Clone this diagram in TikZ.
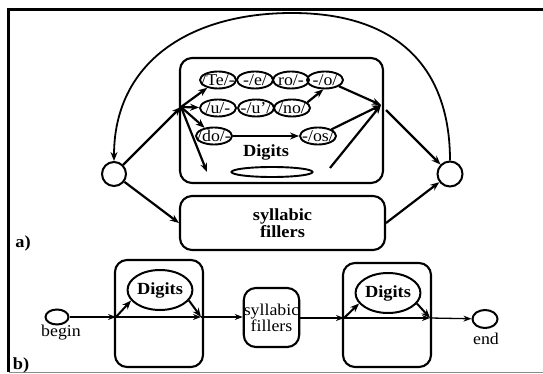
\documentclass[tikz,border=0pt]{standalone}
\usepackage{fontspec}
\setmainfont{Liberation Serif}[FakeStretch=1.08]
\usetikzlibrary{arrows.meta,shapes.geometric}

\begin{document}
\begin{tikzpicture}[x=1pt,y=-1pt,
  every node/.style={font=\fontsize{16.5}{15}\selectfont},
  arr/.style={line width=2.2pt,-{Stealth[length=9pt,width=7pt]}},
  thinarr/.style={line width=1.3pt,-{Stealth[length=8pt,width=6pt]}},
  state/.style={circle,draw,line width=2pt,minimum size=24pt,inner sep=0pt},
  tok/.style={ellipse,draw,line width=1.9pt,minimum width=36pt,minimum height=17pt,inner sep=0pt},
  group/.style={draw,rounded corners=12pt,line width=2.1pt,inner sep=0pt},
  blob/.style={ellipse,draw,line width=2pt,inner sep=0pt},
  tag/.style={font=\fontsize{17}{15}\selectfont\bfseries}]

\useasboundingbox (0,0) rectangle (543,374);

% frame
\draw[line width=3pt] (7,9.5) -- (543,9.5);
\draw[line width=2.6pt] (8.5,8) -- (8.5,372);
\draw[line width=0.8pt,black!45] (8.5,372.2) -- (543,372.2);

% ---------- part a ----------
\node[state] (lc) at (114,174) {};
\node[state,minimum size=25pt] (rc) at (450,174) {};

\node[group,minimum width=203pt,minimum height=125pt] (digbox) at (281.5,120.5) {};
\node[group,minimum width=205pt,minimum height=54pt,align=center,tag] (sylbox) at (282.5,223) {syllabic\\fillers};

% word pieces
\node[tok,label={center:/Te/-}] (te) at (218,80) {};
\node[tok,label={center:-/e/}]  (e)  at (255,80) {};
\node[tok,label={center:ro/-}]  (ro) at (291,80) {};
\node[tok,label={center:-/o/}]  (o)  at (325,80) {};
\node[tok,label={center:/u/-}]  (u)  at (218,108) {};
\node[tok,label={center:-/u'/}] (uu) at (256,108) {};
\node[tok,label={center:/no/}]  (no) at (292,108) {};
\node[tok,label={center:/do/-}] (do) at (214,136) {};
\node[tok,label={center:-/os/}] (os) at (318,136) {};

\node[tag] (diglbl) at (266,152) {Digits};
\node[blob,line width=1.9pt,minimum width=81pt,minimum height=10pt] (dgell) at (272,172) {};

\coordinate (br) at (181,107);
\coordinate (mg) at (381,105);
\coordinate (mgo) at (386,110);
\coordinate (dd) at (207,172);
\coordinate (dg) at (330,168);

\draw[arr] (lc) -- (br);
\draw[arr] (br) -- (te);
\draw[arr] (br) -- (u);
\draw[arr] (br) -- (do);
\draw[arr] (br) -- (dd);
\draw[arr] (no.20) -- (o.-100);
\draw[arr] (do) -- (os);
\draw[arr] (o) -- (mg);
\draw[arr] (os) -- (mg);
\draw[arr] (dg) -- (mg);
\draw[arr] (mgo) -- (rc);
\draw[arr] (lc) -- (sylbox.west);
\draw[arr] (sylbox.east) -- (rc);

% loop back over the top
\draw[line width=1.8pt,-{Stealth[length=9pt,width=7pt]}]
  (rc.north) .. controls (450,70) and (400,13) .. (292,13)
             .. controls (190,13) and (114,62) .. (lc.north);

\node[tag] (alab) at (23,243) {a)};

% ---------- part b ----------
\node[blob,minimum width=23pt,minimum height=15pt] (bg) at (57,317) {};
\node (bglbl) at (61,333) {begin};

\node[group,minimum width=88pt,minimum height=107pt] (box1) at (159,313.5) {};
\node[blob,minimum width=63pt,minimum height=40pt,tag] (dig1) at (160,290) {Digits};
\coordinate (in1) at (116,317);
\coordinate (out1) at (201,317);

\node[group,minimum width=53pt,minimum height=59pt,align=center] (sb) at (271.5,317.5) {syllabic\\fillers};

\node[group,minimum width=88pt,minimum height=104pt] (box2) at (387,315) {};
\node[blob,minimum width=63pt,minimum height=40pt,tag] (dig2) at (388,293) {Digits};
\coordinate (in2) at (344,318);
\coordinate (out2) at (430,318);

\node[blob,minimum width=25pt,minimum height=18pt] (en) at (485,319) {};
\node (enlbl) at (486,339) {end};

\draw[thinarr] (bg) -- (in1);
\draw[arr,line width=2pt] (in1) -- (dig1.200);
\draw[thinarr] (in1) -- (out1);
\draw[arr,line width=2pt] (dig1.-20) -- (out1);
\draw[thinarr] (out1) -- (sb.west |- out1);
\draw[thinarr] (sb.east |- in2) -- (in2);
\draw[arr,line width=2pt] (in2) -- (dig2.200);
\draw[thinarr] (in2) -- (out2);
\draw[arr,line width=2pt] (dig2.-20) -- (out2);
\draw[thinarr] (out2) -- (en);

\node[tag] (blab) at (21,365) {b)};
\end{tikzpicture}
\end{document}
